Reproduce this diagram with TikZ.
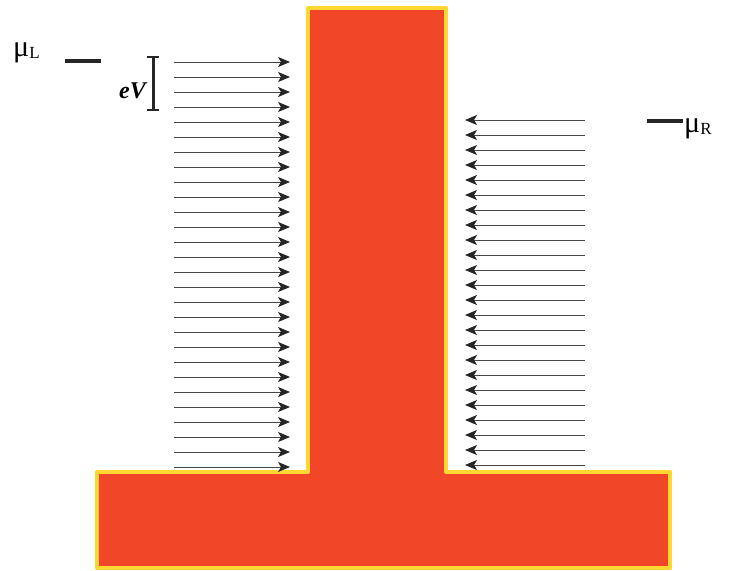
\documentclass[tikz,border=0pt]{standalone}
\usepackage{fontspec}
\setmainfont{Liberation Serif}
\usetikzlibrary{arrows.meta}
\definecolor{wirered}{RGB}{242,70,40}
\definecolor{glowyellow}{RGB}{255,214,50}
\definecolor{fluxgrey}{RGB}{70,70,70}

\begin{document}
\begin{tikzpicture}[x=1pt, y=-1pt,
  flux/.style={fluxgrey, line width=0.9pt, -{Stealth[length=12pt,width=10pt,inset=3pt,color=black!85]}},
  level/.style={line width=4pt, black!85},
  lbl/.style={inner sep=0pt, font=\fontsize{30}{32}\selectfont}]
\useasboundingbox (0,0) rectangle (732,571);
% T-shaped conductor
\draw[glowyellow, line width=4pt, fill=wirered, line join=round]
  (308,8) -- (446,8) -- (446,472) -- (670,472) -- (670,568) -- (97,568) -- (97,472) -- (308,472) -- cycle;
% Left lead: incoming states
\foreach \i in {0,...,27} {
  \coordinate (l\i) at (174,62+15*\i);
  \coordinate (lt\i) at (290,62+15*\i);
  \draw[flux] (l\i) -- (lt\i);
}
% Right lead: incoming states
\foreach \i in {0,...,23} {
  \coordinate (r\i) at (585,120+15*\i);
  \coordinate (rt\i) at (465,120+15*\i);
  \draw[flux] (r\i) -- (rt\i);
}
% Chemical potentials
\node[lbl, anchor=west] (muL) at (13,53) {μ\raisebox{-0.15ex}{\fontsize{17}{17}\selectfont L}};
\coordinate (muLa) at (65,61);
\coordinate (muLb) at (101,61);
\draw[level] (muLa) -- (muLb);
\node[lbl, anchor=west] (muR) at (684,129) {μ\raisebox{-0.15ex}{\fontsize{17}{17}\selectfont R}};
\coordinate (muRa) at (647,121);
\coordinate (muRb) at (683,121);
\draw[level] (muRa) -- (muRb);
% Bias window
\coordinate (evTop) at (153,57);
\coordinate (evBot) at (153,110);
\draw[line width=3pt, black!85] (evTop) -- (evBot);
\draw[line width=2.5pt, black!85] ([xshift=-6pt]evTop) -- ([xshift=6pt]evTop);
\draw[line width=2.5pt, black!85] ([xshift=-6pt]evBot) -- ([xshift=6pt]evBot);
\node[lbl, anchor=east, font=\fontsize{24}{26}\selectfont\bfseries\itshape] (eV) at (146,91) {eV};
\end{tikzpicture}
\end{document}
